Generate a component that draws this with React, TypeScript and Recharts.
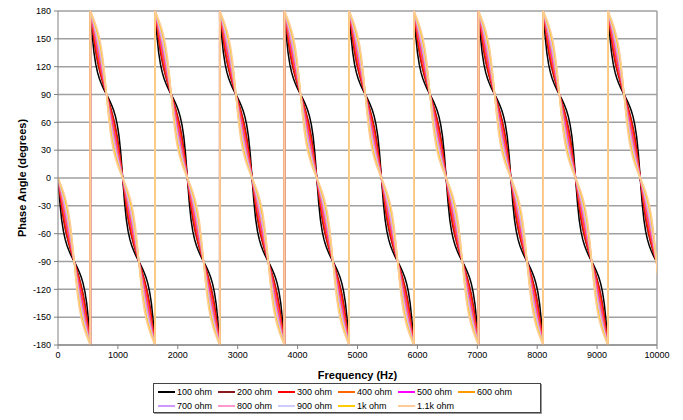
import { LineChart, Line, XAxis, YAxis, CartesianGrid, ReferenceLine, Label } from 'recharts'

// frequency offsets (Hz) inside one half period, readings taken every 30 Hz
const freqOffsets = [0, 30, 60, 90, 120, 150, 180, 210, 240, 270, 300, 330, 360, 390, 420, 450, 480, 510, 540]
const halfPeriod = 540
const maxFreq = 10000

const xTicks = [0, 1000, 2000, 3000, 4000, 5000, 6000, 7000, 8000, 9000, 10000]
const yTicks = [-180, -150, -120, -90, -60, -30, 0, 30, 60, 90, 120, 150, 180]

const seriesNames = ['100 ohm', '200 ohm', '300 ohm', '400 ohm', '500 ohm', '600 ohm', '700 ohm', '800 ohm', '900 ohm', '1k ohm', '1.1k ohm']
const seriesColors = ['#000000', '#8b1a1a', '#ff0000', '#ff6600', '#ff00ff', '#ff9900', '#cc99ff', '#ff99cc', '#ccccff', '#ffcc00', '#ffcc99']

// phase (degrees) over one half period, 0 -> -180
const ohm100 = [0, -25.5, -44.5, -57.3, -66.2, -72.7, -77.9, -82.3, -86.3, -90, -93.7, -97.7, -102.1, -107.3, -113.8, -122.7, -135.5, -154.5, -180]
const ohm200 = [0, -16.7, -31.7, -44.5, -55, -63.7, -71.2, -77.9, -84.1, -90, -95.9, -102.1, -108.8, -116.3, -125, -135.5, -148.3, -163.3, -180]
const ohm300 = [0, -14.8, -28.6, -40.9, -51.5, -60.8, -69, -76.4, -83.3, -90, -96.7, -103.6, -111, -119.2, -128.5, -139.1, -151.4, -165.2, -180]
const ohm400 = [0, -12.4, -24.5, -35.8, -46.4, -56.1, -65.2, -73.8, -82, -90, -98, -106.2, -114.8, -123.9, -133.6, -144.2, -155.5, -167.6, -180]
const ohm500 = [0, -10.5, -20.9, -31.2, -41.4, -51.4, -61.2, -70.9, -80.5, -90, -99.5, -109.1, -118.8, -128.6, -138.6, -148.8, -159.1, -169.5, -180]
const ohm600 = [0, -9, -18.1, -27.5, -37.1, -47, -57.3, -68, -78.9, -90, -101.1, -112, -122.7, -133, -142.9, -152.5, -161.9, -171, -180]
const ohm700 = [0, -7.8, -15.8, -24.2, -33.2, -42.9, -53.5, -65, -77.3, -90, -102.7, -115, -126.5, -137.1, -146.8, -155.8, -164.2, -172.2, -180]
const ohm800 = [0, -6.8, -13.9, -21.4, -29.7, -39, -49.7, -61.8, -75.5, -90, -104.5, -118.2, -130.3, -141, -150.3, -158.6, -166.1, -173.2, -180]
const ohm900 = [0, -6, -12.3, -19.1, -26.7, -35.6, -46.1, -58.8, -73.6, -90, -106.4, -121.2, -133.9, -144.4, -153.3, -160.9, -167.7, -174, -180]
const ohm1k = [0, -5.2, -10.7, -16.7, -23.6, -31.8, -42, -55, -71.3, -90, -108.7, -125, -138, -148.2, -156.4, -163.3, -169.3, -174.8, -180]
const ohm1100 = [0, -4.5, -9.3, -14.6, -20.7, -28.2, -37.9, -51, -68.6, -90, -111.4, -129, -142.1, -151.8, -159.3, -165.4, -170.7, -175.5, -180]

const seriesValues = [ohm100, ohm200, ohm300, ohm400, ohm500, ohm600, ohm700, ohm800, ohm900, ohm1k, ohm1100]

// odd half periods are wrapped: +180 -> 0
function buildRows() {
  const rows: Record<string, number>[] = []
  for (let h = 0; h * halfPeriod <= maxFreq; h++) {
    const shift = h % 2 === 1 ? 180 : 0
    freqOffsets.forEach((off, i) => {
      const f = h * halfPeriod + off
      if (f > maxFreq + 40) return
      const row: Record<string, number> = { f }
      seriesValues.forEach((vals, s) => {
        row['s' + s] = vals[i] + shift
      })
      rows.push(row)
    })
  }
  return rows
}

const data = buildRows()
const font = '"Liberation Sans", Arial, sans-serif'

function ChartLegend() {
  return (
    <div
      style={{
        position: 'absolute',
        left: 153,
        top: 383,
        width: 386,
        height: 28,
        border: '1px solid #444',
        boxShadow: '1px 1px 0 #999',
        background: '#fff',
        fontFamily: font,
        fontSize: 9,
        color: '#000',
      }}
    >
      {seriesNames.map((name, i) => (
        <div
          key={name}
          style={{
            position: 'absolute',
            left: 4 + (i % 6) * 60,
            top: i < 6 ? 3 : 17,
            height: 10,
            display: 'flex',
            alignItems: 'center',
            whiteSpace: 'nowrap',
          }}
        >
          <span style={{ display: 'inline-block', width: 17, height: 2, background: seriesColors[i], marginRight: 2 }} />
          {name}
        </div>
      ))}
    </div>
  )
}

export default function App() {
  return (
    <div style={{ position: 'absolute', left: 0, top: 0, width: 683, height: 420, background: '#fff', fontFamily: font }}>
      <LineChart width={683} height={420} data={data} margin={{ top: 11, right: 26, bottom: 39, left: 18 }}>
        <CartesianGrid vertical={false} stroke="#a0a0a0" strokeWidth={1.5} />
        <XAxis
          dataKey="f"
          type="number"
          domain={[0, maxFreq]}
          allowDataOverflow
          ticks={xTicks}
          interval={0}
          height={36}
          tickSize={4}
          tickMargin={3}
          stroke="#808080"
          tick={{ fontSize: 9, fill: '#000', fontFamily: font }}
        >
          <Label value="Frequency (Hz)" position="insideBottom" offset={2} style={{ fontSize: 11, fontWeight: 'bold', fill: '#000', fontFamily: font }} />
        </XAxis>
        <YAxis
          type="number"
          domain={[-180, 180]}
          ticks={yTicks}
          interval={0}
          width={40}
          tickSize={4}
          tickMargin={3}
          stroke="#808080"
          tick={{ fontSize: 9, fill: '#000', fontFamily: font }}
        >
          <Label
            value="Phase Angle (degrees)"
            angle={-90}
            position="insideLeft"
            offset={4}
            style={{ fontSize: 11, fontWeight: 'bold', fill: '#000', textAnchor: 'middle', fontFamily: font }}
          />
        </YAxis>
        <ReferenceLine x={maxFreq} stroke="#a0a0a0" strokeWidth={1.5} />
        {seriesNames.map((name, s) => (
          <Line
            key={name}
            name={name}
            dataKey={'s' + s}
            type="linear"
            stroke={seriesColors[s]}
            strokeWidth={1.5}
            dot={false}
            isAnimationActive={false}
          />
        ))}
      </LineChart>
      <ChartLegend />
    </div>
  )
}
